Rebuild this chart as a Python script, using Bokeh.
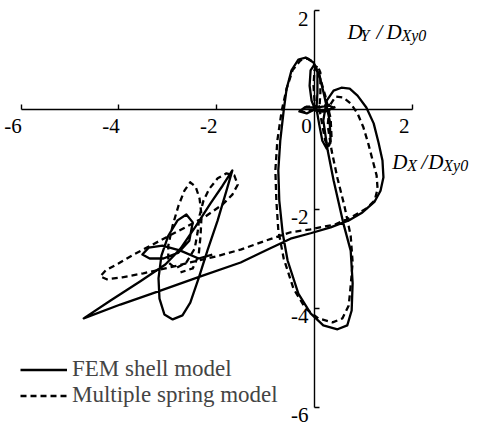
from bokeh.plotting import figure
from bokeh.models import (Range1d, LinearAxis, FixedTicker, Legend, LegendItem,
                          LabelSet, Label, ColumnDataSource)
from bokeh.core.properties import value
from bokeh.embed import file_html
from bokeh.resources import INLINE

# Normalised displacement orbit, FEM shell model (solid)
fem_x = [0.00, -0.16, -0.31, -0.20, 0.04, 0.29, 0.39, 0.22, 0.02,
         -0.06, -0.10, -0.08, 0.00, 0.06, 0.06, 0.04,
         0.10, 0.16, 0.25, 0.33, 0.31, 0.20, 0.10, -0.02, -0.18, -0.33, -0.47, -0.57,
         -0.63, -0.70, -0.74, -0.72, -0.65, -0.55, -0.33, -0.08, 0.18, 0.47, 0.67,
         0.76, 0.78, 0.74, 0.59, 0.39, 0.27, 0.18, 0.25, 0.39, 0.55, 0.72, 0.88,
         1.06, 1.21, 1.31, 1.39, 1.41, 1.35, 1.23, 0.98, 0.70, 0.33, -0.08, -0.49,
         -1.00, -1.51, -2.33, -3.15, -3.97, -4.72,
         -4.17, -3.56, -3.05, -2.74, -2.43, -2.13, -1.88, -1.68,
         -1.80, -1.98, -2.19, -2.37, -2.54, -2.70, -2.90, -3.07, -3.17, -3.19,
         -3.13, -2.99, -2.80, -2.62, -2.49, -2.56, -2.78, -3.09, -3.37, -3.52,
         -3.39, -3.11, -2.74, -2.37, -2.09]
fem_y = [0.01, -0.07, -0.03, 0.05, 0.05, 0.09, 0.05, -0.03, -0.01,
         0.19, 0.49, 0.80, 0.92, 0.76, 0.35, 0.03,
         -0.31, -0.62, -0.78, -0.62, -0.21, 0.29, 0.70, 0.96, 1.06, 1.02, 0.80, 0.43,
         -0.01, -0.62, -1.22, -1.83, -2.49, -3.04, -3.71, -4.11, -4.35, -4.43, -4.35,
         -4.05, -3.50, -2.84, -2.29, -1.42, -0.82, -0.21, 0.19, 0.39, 0.45, 0.43, 0.29,
         0.05, -0.27, -0.66, -1.02, -1.36, -1.63, -1.85, -2.07, -2.23, -2.37, -2.49, -2.60,
         -2.84, -3.08, -3.36, -3.65, -3.93, -4.21,
         -3.85, -3.46, -3.12, -2.80, -2.35, -1.89, -1.53, -1.22,
         -1.63, -2.23, -2.84, -3.40, -3.89, -4.15, -4.23, -4.13, -3.81, -3.40,
         -2.94, -2.54, -2.23, -2.11, -2.27, -2.64, -2.88, -3.00, -3.00, -2.92,
         -2.78, -2.74, -2.84, -3.00, -2.92]

# Normalised displacement orbit, multiple spring model (dashed)
msm_x = [0.00, -0.18, -0.29, -0.16, 0.08, 0.33, 0.41, 0.20, 0.04,
         0.00, -0.02, 0.00, 0.06, 0.12, 0.12, 0.10,
         0.16, 0.22, 0.29, 0.35, 0.33, 0.22, 0.08, -0.04, -0.14, -0.29, -0.45, -0.57,
         -0.67, -0.76, -0.80, -0.78, -0.74, -0.63, -0.43, -0.18, 0.08, 0.37, 0.57,
         0.70, 0.74, 0.78, 0.74, 0.61, 0.47, 0.35, 0.27, 0.31, 0.43, 0.59, 0.74,
         0.88, 1.00, 1.10, 1.19, 1.27, 1.29, 1.23, 1.06, 0.78, 0.43, -0.08, -0.49,
         -1.00, -1.51, -2.02, -2.54, -3.05, -3.50, -3.93, -4.25, -4.38, -4.27,
         -4.01, -3.70, -3.35, -3.01, -2.64, -2.23, -1.88, -1.68, -1.57, -1.64,
         -1.80, -1.98, -2.15, -2.27, -2.35, -2.39, -2.45, -2.62, -2.84, -2.99,
         -2.99, -2.90, -2.78, -2.66, -2.54, -2.43, -2.35, -2.31, -2.33, -2.37,
         -2.49, -2.74]
msm_y = [0.01, -0.05, -0.01, 0.07, 0.07, 0.11, 0.05, -0.03, -0.01,
         0.19, 0.49, 0.80, 0.90, 0.76, 0.35, 0.03,
         -0.31, -0.62, -0.74, -0.58, -0.17, 0.29, 0.76, 0.98, 1.04, 1.00, 0.80, 0.43,
         -0.01, -0.62, -1.22, -1.83, -2.43, -3.00, -3.61, -4.01, -4.21, -4.29, -4.21,
         -3.95, -3.55, -3.08, -2.54, -1.93, -1.38, -0.82, -0.31, 0.09, 0.27, 0.25, 0.13,
         -0.07, -0.35, -0.68, -1.02, -1.32, -1.59, -1.83, -1.99, -2.15, -2.31, -2.41, -2.47,
         -2.64, -2.82, -2.96, -3.08, -3.20, -3.30, -3.38, -3.42, -3.36, -3.24,
         -3.10, -2.92, -2.74, -2.56, -2.37, -2.15, -1.91, -1.71, -1.51, -1.32,
         -1.28, -1.38, -1.59, -1.83, -2.13, -2.47, -2.80, -3.08, -3.20, -3.08,
         -2.74, -2.33, -1.93, -1.63, -1.46, -1.55, -1.79, -2.13, -2.54, -2.94,
         -3.20, -3.28]

x_ticks = [-6, -4, -2, 0, 2]
x_tick_labels = ["-6", "-4", "-2", "0", "2"]
y_ticks = [2, -2, -4, -6]
y_tick_labels = ["2", "-2", "-4", "-6"]

SERIF = "Liberation Serif"

p = figure(width=481, height=427,
           x_range=Range1d(-6.421, 3.415), y_range=Range1d(-6.414, 2.212),
           x_axis_location=None, y_axis_location=None,
           output_backend="svg", toolbar_location=None, min_border=0)
p.outline_line_color = None
p.background_fill_color = "white"
p.border_fill_color = "white"
for g in p.grid:
    g.visible = False

# Axes crossing at the origin
axis_style = dict(major_tick_in=5, major_tick_out=0, minor_tick_line_color=None,
                  major_label_text_color=None, axis_line_width=1.4,
                  major_tick_line_width=1.4, bounds=(-6, 2))
xaxis = LinearAxis(fixed_location=0, ticker=FixedTicker(ticks=x_ticks), **axis_style)
yaxis = LinearAxis(fixed_location=0, ticker=FixedTicker(ticks=y_ticks), **axis_style)
p.add_layout(xaxis, "below")
p.add_layout(yaxis, "left")

# Tick labels
xsrc = ColumnDataSource(dict(x=x_ticks, y=[0] * len(x_ticks), text=x_tick_labels))
p.add_layout(LabelSet(x="x", y="y", text="text", source=xsrc, x_offset=-8, y_offset=-23,
                      text_align="center", text_baseline="alphabetic",
                      text_font=value(SERIF), text_font_size="21px", text_color="black"))
ysrc = ColumnDataSource(dict(x=[0] * len(y_ticks), y=y_ticks, text=y_tick_labels))
p.add_layout(LabelSet(x="x", y="y", text="text", source=ysrc, x_offset=-6, y_offset=-15,
                      text_align="right", text_baseline="alphabetic",
                      text_font=value(SERIF), text_font_size="21px", text_color="black"))

# Orbits
r_fem = p.line(fem_x, fem_y, line_color="black", line_width=2.3, line_join="round")
r_msm = p.line(msm_x, msm_y, line_color="black", line_width=2.3, line_dash="6 4",
               line_join="round")

# Axis titles built from italic pieces with subscripts
def title(ax, ay, dx0, dy0, pieces):
    for txt, dx, dy, size in pieces:
        p.add_layout(Label(x=ax, y=ay, x_offset=dx0 + dx, y_offset=dy0 - dy, text=txt,
                           text_font=SERIF, text_font_style="italic",
                           text_font_size=size, text_align="left",
                           text_baseline="alphabetic", text_color="black"))

title(0, 2, 33, -21.5, [("D", 0, 0, "21px"), ("Y", 13, 3, "16px"), ("/", 29, 0, "21px"),
                        ("D", 39, 0, "21px"), ("Xy0", 54, 3, "16px")])
title(2, 0, -20, -52.5, [("D", 0, 0, "21px"), ("X", 15, 3, "16px"), ("/", 29, 0, "21px"),
                         ("D", 36, 0, "21px"), ("Xy0", 51, 3, "16px")])

legend = Legend(items=[LegendItem(label="FEM shell model", renderers=[r_fem]),
                       LegendItem(label="Multiple spring model", renderers=[r_msm])],
                location=(20, 19), border_line_color=None, background_fill_alpha=0,
                padding=0, margin=0, spacing=-4, glyph_width=47, glyph_height=21,
                label_height=21, label_standoff=5,
                label_text_font=SERIF, label_text_font_size="23px")
p.add_layout(legend)

open("out.html", "w").write(file_html(p, INLINE))
